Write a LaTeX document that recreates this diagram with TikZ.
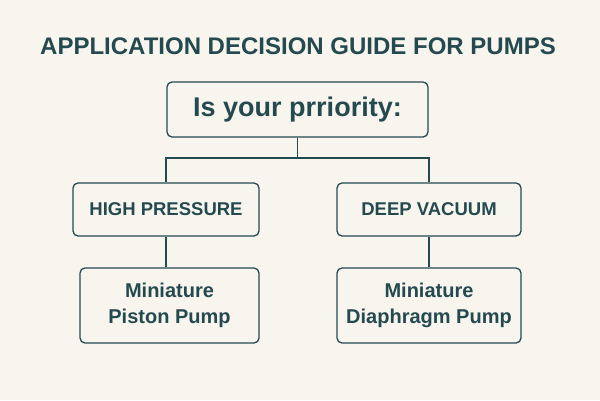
\documentclass[tikz,border=0pt]{standalone}
\usepackage{fontspec}
\setmainfont{Liberation Sans}
\definecolor{bg}{HTML}{F8F5EE}
\definecolor{ink}{HTML}{244A4F}
\begin{document}
\begin{tikzpicture}[x=1pt,y=-1pt,
  box/.style={draw=ink,line width=1.3pt,rounded corners=5pt,fill=bg,text=ink,font=\bfseries,align=center,inner sep=0pt},
  ln/.style={draw=ink,line width=1.2pt}]
\fill[bg] (0,0) rectangle (600,400);
\useasboundingbox (0,0) rectangle (600,400);
\node[text=ink,font=\bfseries\fontsize{24}{28}\selectfont] (title) at (298,46) {APPLICATION DECISION GUIDE FOR PUMPS};
\node[box,minimum width=261pt,minimum height=55pt,font=\fontsize{27}{30}\selectfont\bfseries] (top) at (297.5,109.5) {Is your prriority:};
\node[box,minimum width=186pt,minimum height=53pt,font=\fontsize{18.5}{20}\selectfont\bfseries] (hp) at (166,209.5) {HIGH PRESSURE};
\node[box,minimum width=184pt,minimum height=53pt,font=\fontsize{18.5}{20}\selectfont\bfseries] (dv) at (429,209.5) {DEEP VACUUM};
\node[box,minimum width=179pt,minimum height=75pt,font=\fontsize{20}{26}\selectfont\bfseries] (pp) at (169.5,305.5) {Miniature\\Piston Pump};
\node[box,minimum width=184pt,minimum height=75pt,font=\fontsize{20}{26}\selectfont\bfseries] (dp) at (429,305.5) {Miniature\\Diaphragm Pump};
\coordinate (j) at (297.5,158);
\draw[ln] (top.south) -- (j);
\draw[ln] (hp.north) |- (j) -| (dv.north);
\draw[ln] (hp.south) -- (hp.south |- pp.north);
\draw[ln] (dv.south) -- (dp.north);
\end{tikzpicture}
\end{document}
